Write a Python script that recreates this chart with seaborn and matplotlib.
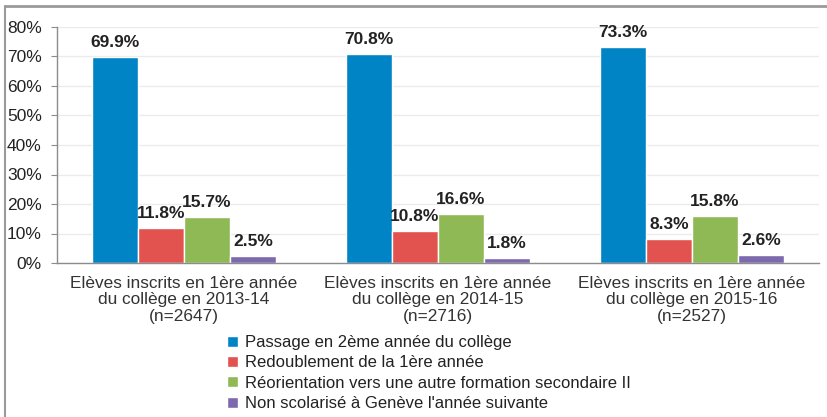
import numpy as np
import pandas as pd
import matplotlib
matplotlib.use("Agg")
import matplotlib.pyplot as plt
import seaborn as sns
from matplotlib.ticker import FuncFormatter, FixedLocator
from matplotlib.lines import Line2D

# ---------------------------------------------------------------
# Données
# ---------------------------------------------------------------
groupes = [
    "Elèves inscrits en 1ère année\ndu collège en 2013-14\n(n=2647)",
    "Elèves inscrits en 1ère année\ndu collège en 2014-15\n(n=2716)",
    "Elèves inscrits en 1ère année\ndu collège en 2015-16\n(n=2527)",
]
issues = [
    "Passage en 2ème année du collège",
    "Redoublement de la 1ère année",
    "Réorientation vers une autre formation secondaire II",
    "Non scolarisé à Genève l'année suivante",
]
passage = [69.9, 70.8, 73.3]
redoublement = [11.8, 10.8, 8.3]
reorientation = [15.7, 16.6, 15.8]
non_scolarise = [2.5, 1.8, 2.6]
couleurs = ["#0084C5", "#E2524F", "#8EB955", "#7D69AE"]

rows = []
for serie, vals in zip(issues, [passage, redoublement, reorientation, non_scolarise]):
    for g, v in zip(groupes, vals):
        rows.append({"groupe": g, "issue": serie, "valeur": v})
df = pd.DataFrame(rows)

# ---------------------------------------------------------------
# Graphique
# ---------------------------------------------------------------
sns.set_style("white")
plt.rcParams['font.family'] = ['Liberation Sans', 'DejaVu Sans']

fig = plt.figure(figsize=(8.28, 4.17), dpi=100)
ax = fig.add_axes([57 / 828, 1 - 263 / 417, (819 - 57) / 828, (263 - 27) / 417])

sns.barplot(data=df, x="groupe", y="valeur", hue="issue", palette=couleurs,
            width=0.725, saturation=1, ax=ax, legend=True)

for cont in ax.containers:
    ax.bar_label(cont, fmt="%.1f%%", fontsize=12.5, fontweight="bold",
                 color="#222222", padding=5)

ax.set_ylim(0, 80)
ax.set_xlim(-0.5, 2.5)
ax.yaxis.set_major_locator(FixedLocator(np.arange(0, 81, 10)))
ax.yaxis.set_major_formatter(FuncFormatter(lambda v, p: f"{v:.0f}%"))
ax.grid(axis="y", color="#EBEBEB", linewidth=1)
ax.set_axisbelow(True)
ax.set_xlabel("")
ax.set_ylabel("")

for s in ["top", "right"]:
    ax.spines[s].set_visible(False)
for s in ["left", "bottom"]:
    ax.spines[s].set_color("#8C8C8C")
    ax.spines[s].set_linewidth(1)

ax.tick_params(axis="y", left=True, length=4, color="#8C8C8C", labelsize=12.5,
               labelcolor="#222222", pad=7)
ax.tick_params(axis="x", which="major", length=0, labelsize=12.4,
               labelcolor="#333333", pad=9)
ax.set_xticks(range(len(groupes)))
ax.set_xticklabels(groupes, linespacing=1.15)
ax.set_xticks([0.5, 1.5, 2.5], minor=True)
ax.tick_params(axis="x", which="minor", length=5, color="#8C8C8C", direction="out")

ax.legend(loc="upper left", bbox_to_anchor=(227 / 828, 1 - 335 / 417),
          bbox_transform=fig.transFigure, frameon=False, fontsize=12,
          handlelength=0.65, handleheight=0.65, handletextpad=0.45,
          labelspacing=0.32, borderpad=0, borderaxespad=0)
for t in ax.get_legend().get_texts():
    t.set_color("#222222")

# cadre du graphique (haut et gauche)
fig.add_artist(Line2D([5 / 828, 1], [1 - 6 / 417, 1 - 6 / 417],
                      transform=fig.transFigure, color="#9A9A9A", linewidth=2))
fig.add_artist(Line2D([5 / 828, 5 / 828], [0, 1 - 6 / 417],
                      transform=fig.transFigure, color="#9A9A9A", linewidth=1.5))

fig.savefig("out.png", dpi=100)
